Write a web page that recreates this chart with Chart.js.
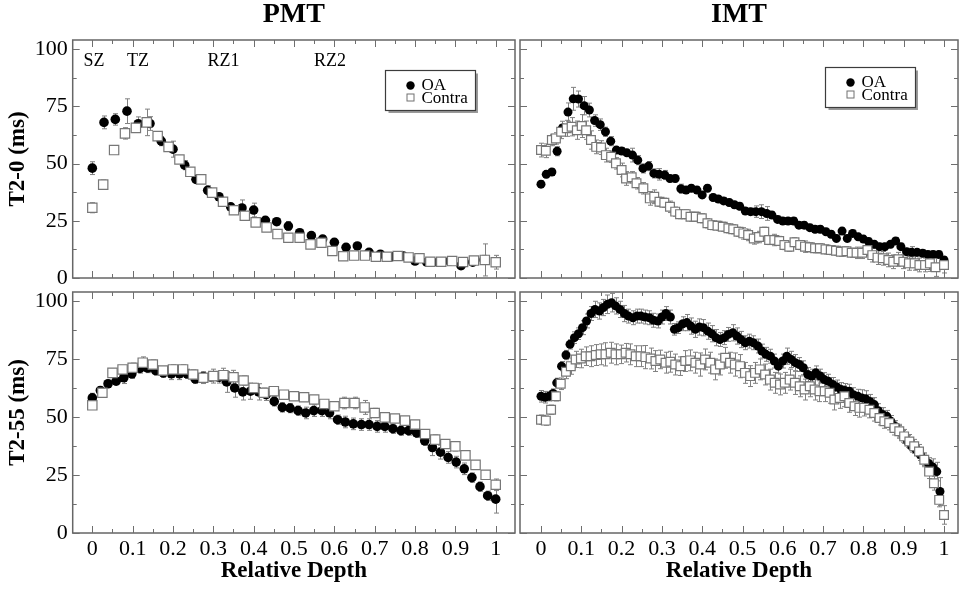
<!DOCTYPE html>
<html lang="en">
<head>
<meta charset="UTF-8">
<title>T2 depth profiles - PMT / IMT</title>
<script src="https://cdn.jsdelivr.net/npm/chart.js"></script>
<style>
  body { margin: 0; background: #fff; }
  #figure { position: relative; width: 959px; height: 589px; background: #fff; }
  #figure canvas { position: absolute; left: 0; top: 0; }
</style>
</head>
<body>
<div id="figure">
  <canvas id="pmt0" width="959" height="589"></canvas>
  <canvas id="imt0" width="959" height="589"></canvas>
  <canvas id="pmt55" width="959" height="589"></canvas>
  <canvas id="imt55" width="959" height="589"></canvas>
</div>
<script>
// axis ticks
const depthTicks = [0, 0.1, 0.2, 0.3, 0.4, 0.5, 0.6, 0.7, 0.8, 0.9, 1];
const depthMinor = [0.05, 0.15, 0.25, 0.35, 0.45, 0.55, 0.65, 0.75, 0.85, 0.95];
const t2Ticks = [0, 25, 50, 75, 100];
const t2Minor = [12.5, 37.5, 62.5, 87.5];

// zone labels (PMT, T2-0 panel)
const zoneNames = ['SZ', 'TZ', 'RZ1', 'RZ2'];
const zoneDepth = [0.004, 0.113, 0.325, 0.589];
const zoneLevel = 94.5;

// ---- PMT, T2-0 ----
const pmt0OaDepth = [0, 0.029, 0.057, 0.086, 0.114, 0.143, 0.171, 0.2, 0.229, 0.257, 0.286, 0.314, 0.343, 0.371, 0.4, 0.429, 0.457, 0.486,
  0.514, 0.543, 0.571, 0.6, 0.629, 0.657, 0.686, 0.714, 0.743, 0.771, 0.8, 0.829, 0.857, 0.886, 0.914, 0.943, 0.971, 1.0];
const pmt0Oa = [48.0, 68.0, 69.3, 72.9, 67.4, 67.5, 59.8, 56.3, 49.3, 43.1, 38.3, 35.5, 31.1, 30.6, 29.7, 25.2, 24.6, 22.7,
  19.8, 18.5, 17.0, 15.6, 13.4, 14.0, 11.2, 10.4, 9.3, 9.6, 7.4, 6.9, 6.9, 7.4, 5.4, 6.9, 7.9, 7.0];
const pmt0OaErr = [2.8, 2.8, 2.5, 5.4, 3.0, 3.0, 2.0, 3.5, 2.0, 1.5, 2.0, 1.5, 1.5, 3.5, 3.0, 1.5, 1.5, 2.0,
  1.5, 1.5, 1.5, 1.5, 1.5, 1.5, 1.5, 1.5, 1.5, 1.5, 1.5, 1.5, 1.5, 1.5, 1.5, 1.5, 2.0, 1.5];

const pmt0ConDepth = [0, 0.027, 0.054, 0.081, 0.108, 0.135, 0.162, 0.189, 0.216, 0.243, 0.27, 0.297, 0.324, 0.351, 0.378, 0.405, 0.432, 0.459, 0.486,
  0.514, 0.541, 0.568, 0.595, 0.622, 0.649, 0.676, 0.703, 0.73, 0.757, 0.784, 0.811, 0.838, 0.865, 0.892, 0.919, 0.946, 0.973, 1.0];
const pmt0Con = [30.7, 40.8, 55.9, 63.2, 65.6, 68.0, 62.0, 57.3, 51.8, 46.4, 43.1, 37.3, 33.3, 29.6, 27.2, 24.3, 22.1, 19.2, 17.6,
  17.6, 14.7, 15.4, 11.8, 9.5, 9.8, 9.8, 9.3, 9.3, 9.6, 9.0, 8.6, 7.1, 7.1, 7.4, 7.0, 7.6, 7.9, 6.9];
const pmt0ConErr = [2.2, 2.0, 1.0, 2.5, 2.0, 5.8, 1.5, 1.5, 1.5, 1.5, 1.5, 1.5, 1.0, 1.0, 1.0, 1.0, 1.0, 1.0, 1.0,
  1.0, 1.5, 1.0, 1.0, 1.0, 1.0, 1.0, 1.0, 1.0, 1.0, 1.0, 1.0, 1.0, 1.0, 1.0, 1.0, 1.0, 7.0, 3.0];

// ---- PMT, T2-55 ----
const pmt55OaDepth = [0, 0.02, 0.039, 0.059, 0.078, 0.098, 0.118, 0.137, 0.157, 0.176, 0.196, 0.216, 0.235, 0.255, 0.275, 0.294, 0.314, 0.333,
  0.353, 0.373, 0.392, 0.412, 0.431, 0.451, 0.471, 0.49, 0.51, 0.529, 0.549, 0.569, 0.588, 0.608, 0.627, 0.647, 0.667, 0.686,
  0.706, 0.725, 0.745, 0.765, 0.784, 0.804, 0.824, 0.843, 0.863, 0.882, 0.902, 0.922, 0.941, 0.961, 0.98, 1.0];
const pmt55Oa = [58.3, 61.5, 64.4, 65.5, 67.0, 68.7, 71.0, 71.2, 70.1, 69.1, 68.7, 68.7, 68.7, 66.5, 67.5, 67.5, 67.2, 65.2,
  62.6, 60.9, 61.2, 60.9, 59.7, 56.8, 54.2, 53.9, 52.8, 51.8, 52.8, 52.8, 51.8, 48.9, 47.9, 47.1, 46.8, 46.8,
  46.0, 46.0, 45.0, 44.2, 44.2, 43.2, 39.8, 36.9, 34.9, 32.6, 30.6, 27.7, 23.9, 20.0, 16.1, 14.6];
const pmt55OaErr = [2.0, 1.5, 1.5, 1.5, 2.5, 2.0, 2.0, 2.0, 2.0, 2.0, 2.5, 2.5, 2.0, 2.0, 2.0, 2.0, 2.5, 4.5,
  4.0, 3.5, 3.5, 3.5, 2.5, 2.0, 2.0, 2.0, 2.0, 2.5, 2.5, 2.5, 2.5, 2.0, 2.5, 2.5, 2.5, 2.5,
  2.5, 2.5, 2.0, 2.0, 2.0, 2.0, 2.0, 3.5, 3.0, 2.5, 2.5, 2.5, 2.0, 2.0, 2.0, 6.0];

const pmt55ConDepth = [0, 0.025, 0.05, 0.075, 0.1, 0.125, 0.15, 0.175, 0.2, 0.225, 0.25, 0.275, 0.3, 0.325, 0.35, 0.375, 0.4, 0.425, 0.45, 0.475,
  0.5, 0.525, 0.55, 0.575, 0.6, 0.625, 0.65, 0.675, 0.7, 0.725, 0.75, 0.775, 0.8, 0.825, 0.85, 0.875, 0.9, 0.925, 0.95, 0.975, 1.0];
const pmt55Con = [55.1, 60.5, 69.1, 70.6, 71.3, 73.5, 72.7, 70.1, 70.6, 70.6, 68.4, 67.0, 67.7, 68.1, 67.2, 65.8, 62.6, 60.5, 61.2, 59.7,
  59.0, 58.6, 57.6, 55.7, 54.7, 56.1, 56.1, 54.2, 51.8, 49.9, 49.4, 48.5, 46.8, 42.7, 40.3, 38.4, 37.4, 33.5, 29.4, 25.1, 20.8];
const pmt55ConErr = [1.5, 1.5, 1.5, 1.5, 2.0, 2.5, 2.0, 1.5, 2.0, 2.0, 2.0, 2.5, 3.0, 3.0, 3.0, 2.0, 2.0, 2.0, 2.0, 1.5,
  1.5, 1.5, 1.5, 1.5, 1.5, 2.5, 2.5, 3.0, 2.0, 1.5, 1.5, 1.5, 1.5, 1.5, 2.0, 1.5, 2.0, 1.5, 1.5, 1.5, 2.5];

// ---- IMT, T2-0 ----
const imt0OaDepth = [0, 0.013, 0.027, 0.04, 0.053, 0.067, 0.08, 0.093, 0.107, 0.12,
  0.133, 0.147, 0.16, 0.173, 0.187, 0.2, 0.213, 0.227, 0.24, 0.253,
  0.267, 0.28, 0.293, 0.307, 0.32, 0.333, 0.347, 0.36, 0.373, 0.387,
  0.4, 0.413, 0.427, 0.44, 0.453, 0.467, 0.48, 0.493, 0.507, 0.52,
  0.533, 0.547, 0.56, 0.573, 0.587, 0.6, 0.613, 0.627, 0.64, 0.653,
  0.667, 0.68, 0.693, 0.707, 0.72, 0.733, 0.747, 0.76, 0.773, 0.787,
  0.8, 0.813, 0.827, 0.84, 0.853, 0.867, 0.88, 0.893, 0.907, 0.92,
  0.933, 0.947, 0.96, 0.973, 0.987, 1.0];
const imt0Oa = [41.0, 45.3, 46.3, 55.4, 65.5, 72.5, 78.3, 78.2, 75.3, 73.4,
  68.8, 67.0, 63.9, 59.8, 55.9, 55.5, 54.7, 53.7, 51.5, 47.9,
  48.9, 45.7, 45.3, 45.0, 43.5, 43.5, 39.0, 38.4, 39.2, 38.4,
  36.3, 39.2, 35.2, 34.5, 33.7, 33.0, 32.0, 31.3, 29.3, 29.0,
  29.0, 29.0, 28.2, 27.5, 25.6, 24.9, 24.9, 24.9, 23.1, 23.1,
  22.0, 21.3, 21.3, 20.2, 19.1, 17.3, 20.5, 17.3, 19.5, 18.0,
  17.0, 15.9, 14.7, 13.7, 13.7, 14.7, 16.2, 13.7, 11.5, 11.2,
  11.2, 10.8, 10.3, 10.3, 10.3, 7.9];
const imt0OaErr = [1.5, 1.5, 1.5, 2.0, 3.0, 4.0, 5.0, 3.5, 4.0, 3.0,
  2.5, 2.5, 2.0, 2.0, 1.5, 1.5, 1.5, 3.0, 2.0, 2.0,
  2.0, 2.0, 2.5, 2.0, 1.5, 1.5, 2.0, 1.5, 1.5, 1.5,
  1.5, 1.5, 1.5, 1.5, 1.5, 1.5, 1.5, 1.5, 1.5, 1.5,
  2.5, 3.0, 3.0, 1.5, 1.5, 1.5, 1.5, 1.5, 1.5, 1.5,
  1.5, 1.5, 1.5, 1.5, 1.5, 1.5, 1.5, 1.5, 1.5, 1.5,
  1.5, 1.5, 1.5, 1.5, 1.5, 1.5, 1.5, 1.5, 1.5, 2.5,
  1.5, 1.5, 1.5, 1.5, 1.5, 1.5];

const imt0ConDepth = [0, 0.012, 0.027, 0.037, 0.05, 0.064, 0.076, 0.089, 0.101, 0.112,
  0.124, 0.137, 0.149, 0.161, 0.174, 0.186, 0.2, 0.211, 0.225, 0.237,
  0.254, 0.27, 0.281, 0.294, 0.306, 0.32, 0.333, 0.345, 0.359, 0.371,
  0.384, 0.399, 0.413, 0.425, 0.438, 0.451, 0.465, 0.477, 0.49,
  0.502, 0.514, 0.528, 0.541, 0.554, 0.566, 0.579, 0.591, 0.604, 0.616,
  0.629, 0.643, 0.655, 0.667, 0.68, 0.692, 0.706, 0.719, 0.732, 0.744,
  0.758, 0.771, 0.783, 0.797, 0.81, 0.822, 0.835, 0.848, 0.862, 0.874,
  0.887, 0.899, 0.913, 0.927, 0.939, 0.953, 0.965, 0.979, 1.0];
const imt0Con = [55.9, 55.6, 60.3, 61.0, 63.9, 65.4, 66.1, 64.6, 66.4, 64.6,
  60.3, 57.3, 57.0, 53.7, 53.0, 50.1, 47.2, 43.5, 44.0, 41.4,
  39.2, 34.8, 35.5, 33.3, 32.9, 31.1, 29.0, 27.9, 27.9, 26.8,
  26.8, 26.1, 23.9, 23.1, 22.8, 22.4, 21.7, 21.3, 20.2,
  19.5, 18.8, 17.3, 17.9, 20.2, 16.6, 16.6, 16.2, 14.4, 13.7,
  15.6, 14.4, 13.7, 13.4, 13.0, 13.0, 12.5, 12.2, 11.9, 11.5,
  11.7, 11.0, 11.0, 11.0, 12.2, 10.0, 8.9, 8.6, 7.9, 7.1,
  8.2, 7.1, 6.4, 6.4, 5.7, 5.7, 6.4, 4.7, 5.7];
const imt0ConErr = [3.0, 3.0, 2.5, 2.5, 3.0, 3.5, 4.0, 4.0, 5.0, 4.0,
  4.0, 3.0, 3.0, 3.0, 2.5, 2.5, 3.0, 3.0, 2.5, 2.5,
  2.5, 3.0, 3.0, 2.0, 2.0, 2.5, 2.0, 2.0, 2.0, 2.0,
  2.0, 2.0, 2.0, 2.0, 2.0, 2.0, 2.0, 2.0, 2.0,
  2.5, 2.5, 2.5, 2.5, 2.0, 2.0, 2.5, 2.0, 2.0, 2.0,
  2.0, 2.0, 2.5, 2.0, 2.0, 2.0, 2.0, 2.0, 2.0, 2.0,
  2.0, 2.0, 2.5, 2.5, 2.5, 3.0, 3.0, 3.0, 3.0, 3.0,
  3.0, 3.0, 3.0, 3.0, 3.0, 3.0, 3.5, 4.0, 3.5];

// ---- IMT, T2-55 ----
const imt55OaDepth = [0, 0.01, 0.02, 0.03, 0.039, 0.051, 0.062, 0.072, 0.083, 0.093,
  0.103, 0.113, 0.124, 0.134, 0.145, 0.155, 0.165, 0.175, 0.185, 0.196,
  0.207, 0.217, 0.228, 0.238, 0.248, 0.258, 0.269, 0.279, 0.29, 0.3,
  0.31, 0.321, 0.331, 0.341, 0.352, 0.362, 0.372, 0.383, 0.393, 0.403,
  0.414, 0.424, 0.434, 0.444, 0.455, 0.465, 0.476, 0.486, 0.496, 0.507,
  0.517, 0.527, 0.538, 0.548, 0.558, 0.569, 0.579, 0.589, 0.6, 0.61,
  0.621, 0.631, 0.641, 0.651, 0.662, 0.672, 0.682, 0.693, 0.703, 0.713,
  0.724, 0.734, 0.744, 0.754, 0.765, 0.775, 0.786, 0.796, 0.806, 0.816,
  0.827, 0.837, 0.848, 0.858, 0.868, 0.879, 0.889, 0.899, 0.91, 0.92,
  0.93, 0.941, 0.951, 0.962, 0.972, 0.982, 0.99];
const imt55Oa = [59.0, 58.6, 59.0, 60.2, 64.8, 72.0, 76.8, 81.4, 84.3, 86.0,
  88.6, 91.5, 94.7, 96.5, 95.8, 97.3, 98.7, 99.4, 98.0, 96.5,
  94.7, 93.6, 92.9, 93.6, 93.6, 93.2, 92.9, 91.8, 91.5, 93.2,
  94.7, 93.2, 87.9, 88.6, 90.3, 90.8, 89.3, 87.9, 88.9, 88.6,
  87.1, 86.0, 84.3, 83.5, 84.3, 85.7, 86.4, 85.0, 83.5, 82.1,
  82.8, 82.1, 80.7, 78.5, 77.1, 76.3, 74.2, 72.0, 74.2, 76.3,
  74.9, 73.5, 72.7, 71.3, 68.4, 67.7, 69.1, 67.7, 66.2, 65.5,
  64.1, 63.0, 61.9, 61.5, 61.2, 59.7, 59.0, 58.3, 57.9, 56.8,
  55.4, 52.8, 51.1, 50.4, 48.2, 46.0, 43.9, 41.7, 39.5, 37.4,
  36.1, 33.8, 31.6, 30.0, 28.5, 26.5, 17.9];
const imt55OaErr = [2.5, 2.5, 2.0, 2.0, 2.0, 2.0, 2.0, 2.0, 2.5, 2.5,
  3.0, 3.0, 3.0, 3.5, 3.5, 3.5, 4.0, 4.0, 3.5, 3.5,
  3.5, 3.0, 3.0, 3.0, 3.0, 3.0, 3.0, 3.0, 3.0, 3.0,
  3.0, 3.0, 2.5, 2.5, 3.0, 3.5, 3.5, 3.5, 3.5, 3.5,
  3.5, 3.5, 3.5, 3.0, 3.0, 3.0, 3.5, 3.5, 3.5, 3.0,
  3.0, 3.0, 3.0, 3.0, 3.0, 3.0, 3.0, 3.0, 3.0, 3.5,
  3.5, 3.5, 3.0, 3.0, 3.0, 3.0, 3.0, 3.0, 3.0, 3.0,
  3.0, 3.0, 3.0, 3.0, 3.0, 3.0, 3.0, 3.5, 3.5, 3.0,
  3.0, 3.0, 3.0, 2.5, 2.5, 2.5, 2.5, 2.5, 2.5, 2.5,
  2.5, 2.5, 2.5, 2.5, 3.5, 4.0, 6.0];

const imt55ConDepth = [0, 0.012, 0.025, 0.037, 0.049, 0.062, 0.074, 0.086, 0.099, 0.111,
  0.123, 0.136, 0.148, 0.16, 0.173, 0.185, 0.198, 0.21, 0.222, 0.235,
  0.247, 0.259, 0.272, 0.284, 0.296, 0.309, 0.321, 0.333, 0.346, 0.358,
  0.37, 0.383, 0.395, 0.407, 0.42, 0.432, 0.444, 0.457, 0.469, 0.481,
  0.494, 0.506, 0.519, 0.531, 0.543, 0.556, 0.568, 0.58, 0.593, 0.605,
  0.617, 0.63, 0.642, 0.654, 0.667, 0.679, 0.691, 0.704, 0.716, 0.728,
  0.741, 0.753, 0.765, 0.778, 0.79, 0.802, 0.815, 0.827, 0.84, 0.852,
  0.864, 0.877, 0.889, 0.901, 0.914, 0.926, 0.938, 0.951, 0.963, 0.975,
  0.988, 1.0];
const imt55Con = [48.9, 48.5, 53.2, 59.0, 64.4, 69.6, 72.0, 74.9, 75.3, 76.3,
  76.3, 76.8, 77.1, 77.1, 77.8, 77.1, 77.1, 77.8, 77.1, 76.3,
  76.3, 75.9, 75.3, 74.2, 74.9, 73.5, 73.9, 72.7, 72.0, 74.2,
  74.5, 73.5, 72.7, 74.9, 73.5, 70.6, 72.7, 75.6, 73.5, 72.7,
  72.0, 69.1, 67.7, 69.1, 70.6, 68.4, 66.2, 64.8, 64.1, 64.8,
  66.2, 64.8, 63.3, 61.9, 63.3, 61.9, 61.2, 61.2, 60.5, 57.6,
  58.3, 59.0, 56.1, 54.7, 54.0, 54.0, 53.2, 51.8, 49.6, 48.2,
  47.5, 45.3, 43.9, 41.7, 39.5, 37.4, 35.2, 31.6, 26.5, 21.5,
  14.3, 7.8];
const imt55ConErr = [2.0, 2.0, 2.0, 2.0, 2.5, 3.0, 3.5, 3.5, 4.0, 4.0,
  4.5, 4.5, 4.5, 5.0, 4.5, 4.5, 4.0, 4.0, 4.5, 4.5,
  4.5, 5.0, 4.5, 4.5, 4.0, 4.5, 4.5, 4.5, 4.0, 4.5,
  4.5, 4.5, 5.0, 4.5, 4.5, 4.5, 4.5, 4.5, 4.5, 5.0,
  5.0, 4.5, 4.5, 4.5, 4.5, 4.5, 4.5, 4.5, 4.5, 4.5,
  4.5, 5.0, 4.5, 4.5, 4.5, 4.5, 4.5, 4.5, 4.5, 4.5,
  4.5, 4.5, 4.0, 4.0, 4.0, 3.5, 3.5, 3.5, 3.0, 3.0,
  3.0, 3.0, 3.0, 3.0, 3.0, 3.0, 3.0, 3.0, 3.0, 3.0,
  3.0, 4.0];

Chart.defaults.font.family = '"Liberation Serif", "Times New Roman", serif';
Chart.defaults.color = '#000';

// frame, inward ticks, error bars, legend box, panel title, zone labels
const decor = {
  id: 'decor',
  beforeDatasetsDraw(chart) {
    const { ctx, chartArea: a, scales: { y } } = chart;
    ctx.save();
    ctx.beginPath();
    ctx.rect(a.left, a.top, a.right - a.left, a.bottom - a.top);
    ctx.clip();
    ctx.strokeStyle = '#808080';
    ctx.lineWidth = 1;
    chart.data.datasets.forEach((ds, di) => {
      const meta = chart.getDatasetMeta(di);
      ds.data.forEach((p, i) => {
        if (!p.e || !meta.data[i]) return;
        const px = Math.round(meta.data[i].x) + 0.5;
        const y1 = y.getPixelForValue(p.y + p.e);
        const y2 = y.getPixelForValue(p.y - p.e);
        ctx.beginPath();
        ctx.moveTo(px, y1); ctx.lineTo(px, y2);
        ctx.moveTo(px - 2.5, y1); ctx.lineTo(px + 2.5, y1);
        ctx.moveTo(px - 2.5, y2); ctx.lineTo(px + 2.5, y2);
        ctx.stroke();
      });
    });
    ctx.restore();
  },
  afterDraw(chart, args, opts) {
    const { ctx, chartArea: a, scales: { x, y } } = chart;
    ctx.save();

    ctx.strokeStyle = '#666';
    ctx.lineWidth = 1.5;
    ctx.strokeRect(a.left, a.top, a.right - a.left, a.bottom - a.top);

    ctx.strokeStyle = '#6e6e6e';
    ctx.lineWidth = 1;
    ctx.beginPath();
    const xMark = (v, len) => {
      const p = Math.round(x.getPixelForValue(v)) + 0.5;
      ctx.moveTo(p, a.bottom); ctx.lineTo(p, a.bottom - len);
      ctx.moveTo(p, a.top); ctx.lineTo(p, a.top + len);
    };
    const yMark = (v, len) => {
      const p = Math.round(y.getPixelForValue(v)) + 0.5;
      ctx.moveTo(a.left, p); ctx.lineTo(a.left + len, p);
      ctx.moveTo(a.right, p); ctx.lineTo(a.right - len, p);
    };
    depthTicks.forEach(v => xMark(v, 7));
    depthMinor.forEach(v => xMark(v, 4));
    t2Ticks.forEach(v => yMark(v, 7));
    t2Minor.forEach(v => yMark(v, 4));
    ctx.stroke();

    ctx.fillStyle = '#000';
    if (opts.title) {
      ctx.font = 'bold 28px "Liberation Serif"';
      ctx.textAlign = 'center';
      ctx.textBaseline = 'middle';
      ctx.fillText(opts.title, (a.left + a.right) / 2, 15);
    }

    if (opts.zones) {
      ctx.font = '18px "Liberation Serif"';
      ctx.textAlign = 'center';
      ctx.textBaseline = 'middle';
      zoneNames.forEach((z, i) => {
        ctx.fillText(z, x.getPixelForValue(zoneDepth[i]), y.getPixelForValue(zoneLevel));
      });
    }

    if (opts.legend) {
      const L = opts.legend;
      const bx = Math.round(a.right + L.dx) + 0.5;
      const by = Math.round(a.top + L.dy) + 0.5;
      ctx.fillStyle = '#fff';
      ctx.fillRect(bx, by, L.w, L.h);
      ctx.strokeStyle = '#9a9a9a';
      ctx.lineWidth = 2;
      ctx.beginPath();
      ctx.moveTo(bx + L.w + 1.5, by + 3);
      ctx.lineTo(bx + L.w + 1.5, by + L.h + 1.5);
      ctx.lineTo(bx + 3, by + L.h + 1.5);
      ctx.stroke();
      ctx.strokeStyle = '#3c3c3c';
      ctx.lineWidth = 1.2;
      ctx.strokeRect(bx, by, L.w, L.h);

      ctx.font = '17px "Liberation Serif"';
      ctx.textAlign = 'left';
      ctx.textBaseline = 'middle';
      chart.data.datasets.forEach((ds, i) => {
        const cx = bx + 25, cy = by + 14 + i * 13;
        if (ds.pointStyle === 'circle') {
          ctx.fillStyle = '#000';
          ctx.beginPath();
          ctx.arc(cx, cy + 1, 4.2, 0, Math.PI * 2);
          ctx.fill();
        } else {
          ctx.strokeStyle = '#707070';
          ctx.lineWidth = 1;
          ctx.strokeRect(cx - 3.5, cy - 3.5, 7, 7);
        }
        ctx.fillStyle = '#000';
        ctx.fillText(ds.label, bx + 36, cy + 1);
      });
    }
    ctx.restore();
  }
};
Chart.register(decor);

function points(xs, ys, es) {
  return xs.map((x, i) => ({ x: x, y: ys[i], e: es[i] }));
}

function panel(id, cfg) {
  return new Chart(document.getElementById(id), {
    type: 'scatter',
    data: {
      datasets: [
        {
          label: 'OA',
          data: points(cfg.oa[0], cfg.oa[1], cfg.oa[2]),
          pointStyle: 'circle',
          pointRadius: cfg.r,
          pointHoverRadius: cfg.r,
          backgroundColor: '#000',
          borderColor: '#000',
          borderWidth: 0,
          order: 1
        },
        {
          label: 'Contra',
          data: points(cfg.con[0], cfg.con[1], cfg.con[2]),
          pointStyle: 'rect',
          pointRadius: cfg.sq,
          pointHoverRadius: cfg.sq,
          backgroundColor: '#fff',
          borderColor: '#777',
          borderWidth: 1.2,
          order: 0
        }
      ]
    },
    options: {
      responsive: false,
      animation: false,
      devicePixelRatio: 1,
      events: [],
      layout: { autoPadding: false, padding: cfg.pad },
      plugins: {
        legend: { display: false },
        tooltip: { enabled: false },
        decor: { title: cfg.title, legend: cfg.legend, zones: cfg.zones }
      },
      scales: {
        x: {
          type: 'linear',
          min: cfg.xmin,
          max: cfg.xmax,
          grid: { display: false, drawTicks: false },
          border: { display: false },
          afterBuildTicks: s => { s.ticks = depthTicks.map(v => ({ value: v })); },
          ticks: {
            display: cfg.xLabels, autoSkip: false, maxRotation: 0, padding: 3,
            font: { size: 22 }, color: '#000', callback: v => String(v)
          },
          title: {
            display: cfg.xLabels, text: 'Relative Depth', color: '#000',
            font: { size: 23, weight: 'bold' }, padding: { top: 0, bottom: 4 }
          },
          afterFit: s => { s.height = cfg.xLabels ? 56 : 0; }
        },
        y: {
          type: 'linear',
          min: 0,
          max: 104,
          grid: { display: false, drawTicks: false },
          border: { display: false },
          afterBuildTicks: s => { s.ticks = t2Ticks.map(v => ({ value: v })); },
          ticks: { display: cfg.yLabels, padding: 5, font: { size: 22 }, color: '#000' },
          title: {
            display: cfg.yLabels, text: cfg.yTitle, color: '#000',
            font: { size: 23, weight: 'bold' }, padding: { top: 4, bottom: 0 }
          },
          afterFit: s => { s.width = cfg.yLabels ? 72.7 : 0; }
        }
      }
    }
  });
}

panel('pmt0', {
  title: 'PMT', yTitle: 'T2-0 (ms)', xLabels: false, yLabels: true, zones: true, r: 4.8, sq: 6.6,
  xmin: -0.0486, xmax: 1.0478,
  pad: { left: 0, top: 40, right: 444, bottom: 311 },
  legend: { dx: -130, dy: 30, w: 90, h: 40 },
  oa: [pmt0OaDepth, pmt0Oa, pmt0OaErr],
  con: [pmt0ConDepth, pmt0Con, pmt0ConErr]
});

panel('imt0', {
  title: 'IMT', xLabels: false, yLabels: false, zones: false, r: 4.5, sq: 6.2,
  xmin: -0.0521, xmax: 1.0347,
  pad: { left: 520, top: 40, right: 1, bottom: 311 },
  legend: { dx: -133, dy: 27, w: 90, h: 40 },
  oa: [imt0OaDepth, imt0Oa, imt0OaErr],
  con: [imt0ConDepth, imt0Con, imt0ConErr]
});

panel('pmt55', {
  yTitle: 'T2-55 (ms)', xLabels: true, yLabels: true, zones: false, r: 4.8, sq: 6.6,
  xmin: -0.0486, xmax: 1.0478,
  pad: { left: 0, top: 292, right: 444, bottom: 0 },
  oa: [pmt55OaDepth, pmt55Oa, pmt55OaErr],
  con: [pmt55ConDepth, pmt55Con, pmt55ConErr]
});

panel('imt55', {
  xLabels: true, yLabels: false, zones: false, r: 4.5, sq: 6.2,
  xmin: -0.0521, xmax: 1.0347,
  pad: { left: 520, top: 292, right: 1, bottom: 0 },
  oa: [imt55OaDepth, imt55Oa, imt55OaErr],
  con: [imt55ConDepth, imt55Con, imt55ConErr]
});
</script>
</body>
</html>
